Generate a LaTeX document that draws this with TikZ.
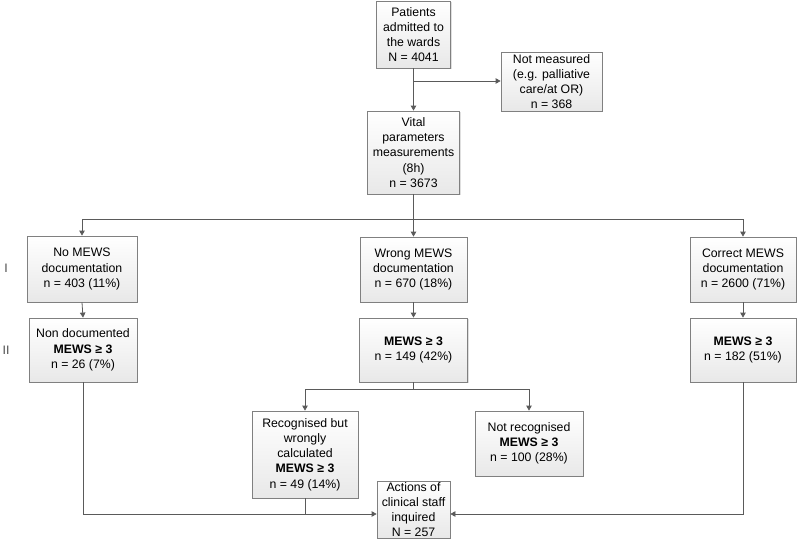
\documentclass[tikz,border=0pt]{standalone}
\usepackage{fontspec}
\setmainfont{Liberation Sans}
\usetikzlibrary{arrows.meta,shadows}
\definecolor{linec}{HTML}{5A5A5A}
\definecolor{boxc}{HTML}{808080}
\tikzset{
  box/.style={draw=boxc, line width=0.8pt, top color=white, bottom color=black!9,
    align=center, inner sep=1pt, font=\fontsize{12.3}{15.2}\selectfont,
    drop shadow={shadow xshift=1.2pt, shadow yshift=-1.2pt, fill=black!25, opacity=0.5}},
  conn/.style={draw=linec, line width=0.8pt},
  arr/.style={conn, -{Triangle[width=5.5pt,length=5pt]}},
  lab/.style={font=\fontsize{12.3}{15}\selectfont, text=black!70}
}
\begin{document}
\begin{tikzpicture}[x=1pt,y=-1pt]
\useasboundingbox (0,0) rectangle (800,551);
\node[box, minimum width=74pt, minimum height=67pt] (pat) at (413.5,34.5) {Patients\\admitted to\\the wards\\N = 4041};
\node[box, minimum width=101pt, minimum height=59pt] (notm) at (551.5,81.5) {Not measured\\(e.g. palliative\\care/at OR)\\n = 368};
\node[box, minimum width=92pt, minimum height=83pt] (vital) at (413.5,152.5) {Vital\\parameters\\measurements\\(8h)\\n = 3673};
\node[box, minimum width=110pt, minimum height=66pt] (nomews) at (82,269) {No MEWS\\documentation\\n = 403 (11\%)};
\node[box, minimum width=107pt, minimum height=65pt] (wrong) at (413.5,269.5) {Wrong MEWS\\documentation\\n = 670 (18\%)};
\node[box, minimum width=106pt, minimum height=65pt] (correct) at (743,269.5) {Correct MEWS\\documentation\\n = 2600 (71\%)};
\node[box, minimum width=108pt, minimum height=64pt] (nondoc) at (83,350) {Non documented\\\textbf{MEWS ≥ 3}\\n = 26 (7\%)};
\node[box, minimum width=108pt, minimum height=64pt] (mewsa) at (413.5,350) {\textbf{MEWS ≥ 3}\\n = 149 (42\%)};
\node[box, minimum width=106pt, minimum height=64pt] (mewsb) at (743,350) {\textbf{MEWS ≥ 3}\\n = 182 (51\%)};
\node[box, minimum width=106pt, minimum height=87pt] (recog) at (305,454.5) {Recognised but\\wrongly\\calculated\\\textbf{MEWS ≥ 3}\\n = 49 (14\%)};
\node[box, minimum width=108pt, minimum height=65pt] (notrec) at (529,443.5) {Not recognised\\\textbf{MEWS ≥ 3}\\n = 100 (28\%)};
\node[box, minimum width=73pt, minimum height=57pt] (act) at (413.5,509.5) {Actions of\\clinical staff\\inquired\\N = 257};
\node[lab] (l1) at (6,268) {I};
\node[lab] (l2) at (6,350) {II};
\coordinate (j1) at (413.5,81);
\coordinate (j2) at (413.5,219);
\coordinate (j3) at (413.5,389);
\coordinate (j4) at (305,514);
% connectors
\draw[arr] (pat.south) -- (vital.north);
\draw[arr] (j1) -- (notm.west |- j1);
\draw[conn] (vital.south) -- (j2);
\draw[arr] (j2) -| (nomews.north);
\draw[arr] (j2) -| (correct.north);
\draw[arr] (j2) -- (wrong.north);
\draw[arr] (nomews.south) -- (nondoc.north);
\draw[arr] (wrong.south) -- (mewsa.north);
\draw[arr] (correct.south) -- (mewsb.north);
\draw[conn] (mewsa.south) -- (j3);
\draw[arr] (j3) -| (recog.north);
\draw[arr] (j3) -| (notrec.north);
\draw[arr] (nondoc.south) -- (nondoc.south |- j4) -- (act.west |- j4);
\draw[conn] (recog.south) -- (j4);
\draw[arr] (mewsb.south) -- (mewsb.south |- j4) -- (act.east |- j4);
\end{tikzpicture}
\end{document}
